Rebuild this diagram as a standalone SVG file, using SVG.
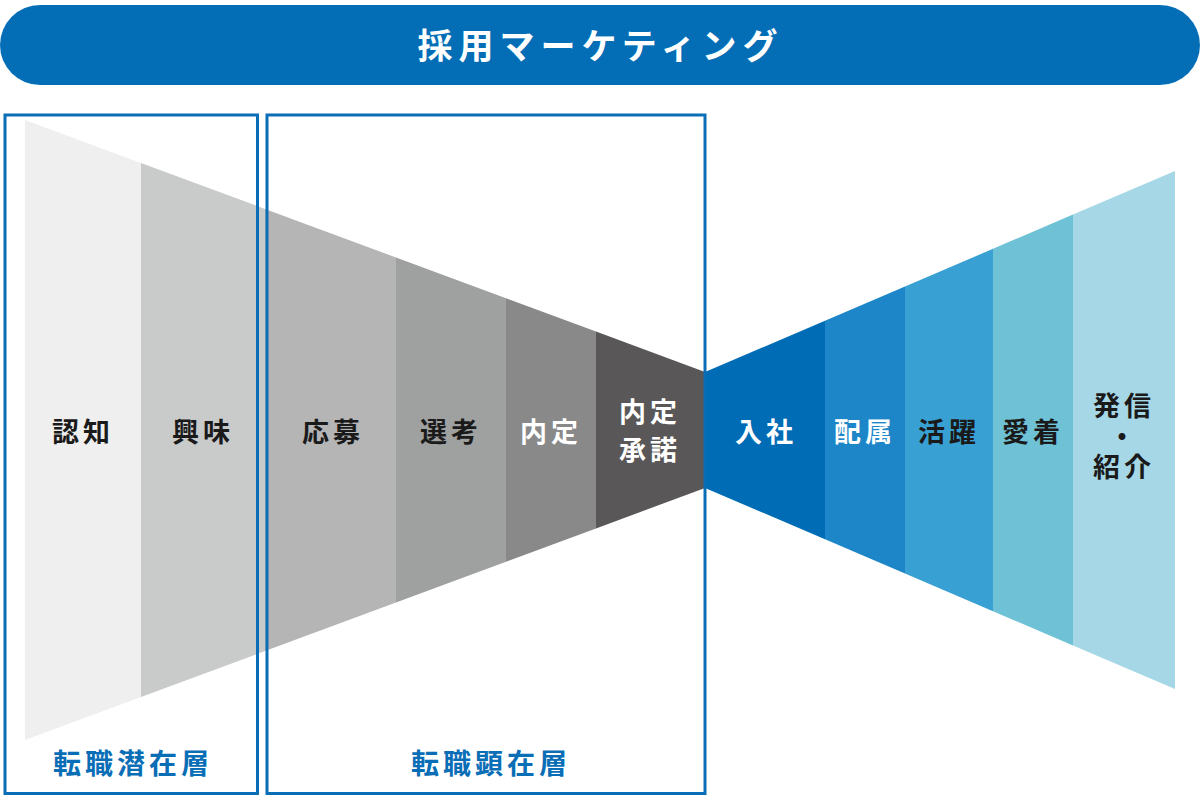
<svg xmlns="http://www.w3.org/2000/svg" width="1200" height="800" viewBox="0 0 1200 800">
<style>
.lbl{font-family:"Noto Sans CJK JP","Noto Sans CJK SC",sans-serif;font-weight:700;font-size:27px;letter-spacing:4px;text-anchor:middle;dominant-baseline:central}
.dk{fill:#1a1a1a}
.wt{fill:#ffffff}
.title{font-family:"Noto Sans CJK JP","Noto Sans CJK SC",sans-serif;font-weight:700;font-size:35px;letter-spacing:6px;text-anchor:middle;dominant-baseline:central;fill:#ffffff}
.layer{font-family:"Noto Sans CJK JP","Noto Sans CJK SC",sans-serif;font-weight:700;font-size:28px;letter-spacing:4px;text-anchor:middle;dominant-baseline:central;fill:#0a6eb6}
.box{fill:none;stroke:#0a6eb6;stroke-width:3}
</style>
<rect width="1200" height="800" fill="#ffffff"/>
<g id="header">
<rect x="0" y="5" width="1200" height="80" rx="40" ry="40" fill="#036eb6"/>
<text class="title" x="600.5" y="43">採用マーケティング</text>
</g>
<g id="funnel-left">
<g id="n-ninchi"><polygon points="25,120 141,163 141,697 25,740" fill="#efefef"/><text class="lbl dk" x="83" y="430">認知</text></g>
<g id="n-kyoumi"><polygon points="141,163 265,208.9 265,651.1 141,697" fill="#c9caca"/><text class="lbl dk" x="203" y="430">興味</text></g>
<g id="n-oubo"><polygon points="265,208.9 396,257.5 396,602.5 265,651.1" fill="#b5b5b6"/><text class="lbl dk" x="333" y="430">応募</text></g>
<g id="n-senkou"><polygon points="396,257.5 506,298.3 506,561.7 396,602.5" fill="#9fa0a0"/><text class="lbl dk" x="451" y="430">選考</text></g>
<g id="n-naitei"><polygon points="506,298.3 596,331.6 596,528.4 506,561.7" fill="#898989"/><text class="lbl wt" x="551" y="430">内定</text></g>
<g id="n-shoudaku"><polygon points="596,331.6 705,372 705,488 596,528.4" fill="#595757"/><text class="lbl wt"><tspan x="650" y="410">内定</tspan><tspan x="650" y="448">承諾</tspan></text></g>
</g>
<g id="funnel-right">
<g id="n-nyusha"><polygon points="705,372 825,320.7 825,539.3 705,488" fill="#006cb5"/><text class="lbl wt" x="766" y="430">入社</text></g>
<g id="n-haizoku"><polygon points="825,320.7 905,286.5 905,573.5 825,539.3" fill="#1c86c8"/><text class="lbl wt" x="865" y="430">配属</text></g>
<g id="n-katsuyaku"><polygon points="905,286.5 993,248.8 993,611.2 905,573.5" fill="#38a0d3"/><text class="lbl dk" x="949" y="430">活躍</text></g>
<g id="n-aichaku"><polygon points="993,248.8 1073,214.6 1073,645.4 993,611.2" fill="#6fc2d6"/><text class="lbl dk" x="1033" y="430">愛着</text></g>
<g id="n-hasshin"><polygon points="1073,214.6 1175,171 1175,689 1073,645.4" fill="#a6d7e6"/><text class="lbl dk"><tspan x="1124" y="404">発信</tspan><tspan x="1124" y="435">・</tspan><tspan x="1124" y="465">紹介</tspan></text></g>
</g>
<g id="layer-latent">
<rect class="box" x="5" y="115" width="252.5" height="678.5"/>
<text class="layer" x="133" y="762">転職潜在層</text>
</g>
<g id="layer-active">
<rect class="box" x="267" y="115" width="438" height="678.5"/>
<text class="layer" x="491" y="762">転職顕在層</text>
</g>
<g id="connectors"></g>
</svg>
